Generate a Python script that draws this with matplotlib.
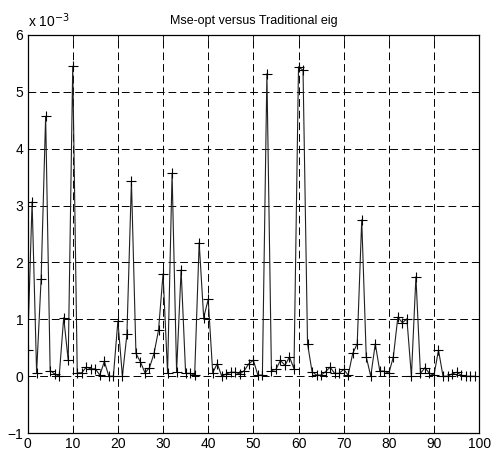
import matplotlib
matplotlib.use("Agg")
import matplotlib.pyplot as plt
import numpy as np

plt.rcParams['font.family'] = ['Liberation Sans', 'DejaVu Sans']

# Error difference per index, in units of 1e-3
index = np.arange(0, 100)
mse_diff = [
    0.47, 3.07, 0.06, 1.71, 4.57, 0.10, 0.04, 0.00, 1.03, 0.28,
    5.45, 0.06, 0.06, 0.16, 0.13, 0.13, 0.02, 0.26, 0.00, 0.00,
    0.97, 0.00, 0.74, 3.43, 0.40, 0.25, 0.06, 0.15, 0.40, 0.81,
    1.80, 0.06, 3.57, 0.08, 1.87, 0.05, 0.05, 0.02, 2.35, 1.03,
    1.35, 0.06, 0.22, 0.00, 0.04, 0.07, 0.07, 0.04, 0.10, 0.22,
    0.28, 0.02, 0.02, 5.32, 0.10, 0.12, 0.28, 0.19, 0.34, 0.13,
    5.44, 5.38, 0.57, 0.08, 0.02, 0.02, 0.08, 0.16, 0.05, 0.05,
    0.12, 0.02, 0.40, 0.57, 2.75, 0.34, 0.00, 0.57, 0.09, 0.09,
    0.05, 0.34, 1.04, 0.94, 1.01, 0.00, 1.75, 0.05, 0.15, 0.05,
    0.02, 0.46, 0.00, 0.00, 0.04, 0.07, 0.02, 0.00, 0.00, 0.00,
]

x_ticks = [0, 10, 20, 30, 40, 50, 60, 70, 80, 90, 100]
y_ticks = [-1, 0, 1, 2, 3, 4, 5, 6]

fig = plt.figure(figsize=(4.96, 4.54), dpi=100)
ax = fig.add_axes([0.0556, 0.046, 0.9104, 0.877])

ax.plot(index, mse_diff, color='#202020', linewidth=0.8,
        marker='+', markersize=7, markeredgewidth=0.8, markeredgecolor='black')

ax.set_xlim(0, 100)
ax.set_ylim(-1, 6)
ax.set_xticks(x_ticks)
ax.set_yticks(y_ticks)
ax.tick_params(direction='in', labelsize=10, length=4, width=0.6, pad=3,
               top=True, right=True)
ax.grid(True, linestyle=(0, (8, 4)), color='black', linewidth=0.7)
for s in ax.spines.values():
    s.set_linewidth(0.9)

ax.set_title('Mse-opt versus Traditional eig', fontsize=9, pad=8)
ax.text(0.002, 1.012, r'x 10$^{-3}$', transform=ax.transAxes, fontsize=10,
        ha='left', va='bottom')

fig.savefig('out.png', dpi=100)
